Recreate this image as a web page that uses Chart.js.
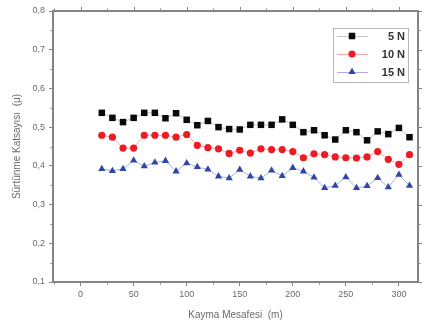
<!DOCTYPE html>
<html lang="tr">
<head>
<meta charset="UTF-8">
<title>Sürtünme Katsayısı</title>
<script src="https://cdn.jsdelivr.net/npm/chart.js@4/dist/chart.umd.min.js"></script>
<style>
    html, body { margin: 0; padding: 0; background: #fff; }
</style>
</head>
<body>
<canvas id="myChart" width="426" height="330"></canvas>

<script>
// data
var distance = [20, 30, 40, 50, 60, 70, 80, 90, 100, 110, 120, 130, 140, 150, 160,
                170, 180, 190, 200, 210, 220, 230, 240, 250, 260, 270, 280, 290, 300, 310];
var load5N  = [0.537, 0.524, 0.513, 0.524, 0.537, 0.537, 0.523, 0.536, 0.519, 0.505, 0.516, 0.500, 0.495, 0.494, 0.506,
               0.506, 0.506, 0.520, 0.506, 0.487, 0.492, 0.479, 0.468, 0.492, 0.487, 0.466, 0.489, 0.482, 0.498, 0.474];
var load10N = [0.479, 0.474, 0.446, 0.446, 0.479, 0.479, 0.479, 0.474, 0.481, 0.453, 0.447, 0.444, 0.432, 0.440, 0.433,
               0.444, 0.442, 0.442, 0.437, 0.421, 0.431, 0.429, 0.423, 0.421, 0.420, 0.423, 0.437, 0.417, 0.404, 0.429];
var load15N = [0.392, 0.387, 0.392, 0.414, 0.399, 0.409, 0.413, 0.386, 0.407, 0.397, 0.391, 0.373, 0.368, 0.390, 0.373,
               0.368, 0.388, 0.374, 0.395, 0.386, 0.370, 0.343, 0.349, 0.371, 0.343, 0.348, 0.369, 0.345, 0.377, 0.349];
var seriesNames = ['5 N', '10 N', '15 N'];
var xTicks = [0, 50, 100, 150, 200, 250, 300];
var xMinorTicks = [-25, 25, 75, 125, 175, 225, 275];
var yTicks = [0.1, 0.2, 0.3, 0.4, 0.5, 0.6, 0.7, 0.8];
var yMinorTicks = [0.15, 0.25, 0.35, 0.45, 0.55, 0.65, 0.75];

(function () {
    var axisColor = '#858585';
    var textColor = '#6a6a6a';

    function points(ys) {
        return distance.map(function (d, i) { return {x: d, y: ys[i]}; });
    }

    var extras = {
        id: 'extras',
        afterDraw: function (chart) {
            var ctx = chart.ctx, a = chart.chartArea;
            var sx = chart.scales.x, sy = chart.scales.y;
            ctx.save();
            // top / right frame
            ctx.strokeStyle = axisColor;
            ctx.lineWidth = 2;
            ctx.beginPath();
            ctx.moveTo(a.left, a.top);
            ctx.lineTo(a.right, a.top);
            ctx.lineTo(a.right, a.bottom);
            ctx.stroke();

            // minor ticks below / left and mirrored ticks top / right
            ctx.lineWidth = 1;
            ctx.beginPath();
            xMinorTicks.forEach(function (v) {
                var px = Math.round(sx.getPixelForValue(v)) + 0.5;
                ctx.moveTo(px, a.bottom); ctx.lineTo(px, a.bottom + 2.5);
                ctx.moveTo(px, a.top); ctx.lineTo(px, a.top - 2.5);
            });
            xTicks.forEach(function (v) {
                var px = Math.round(sx.getPixelForValue(v)) + 0.5;
                ctx.moveTo(px, a.top); ctx.lineTo(px, a.top - 4);
            });
            yMinorTicks.forEach(function (v) {
                var py = Math.round(sy.getPixelForValue(v)) + 0.5;
                ctx.moveTo(a.left, py); ctx.lineTo(a.left - 2.5, py);
                ctx.moveTo(a.right, py); ctx.lineTo(a.right + 2.5, py);
            });
            yTicks.forEach(function (v) {
                var py = Math.round(sy.getPixelForValue(v)) + 0.5;
                ctx.moveTo(a.right, py); ctx.lineTo(a.right + 4, py);
            });
            ctx.stroke();

            // legend box
            var bx = 333, by = 28, bw = 75, bh = 54;
            ctx.fillStyle = '#fff';
            ctx.fillRect(bx, by, bw, bh);
            ctx.strokeStyle = '#b5b5b5';
            ctx.lineWidth = 1;
            ctx.strokeRect(bx + 0.5, by + 0.5, bw, bh);
            ctx.font = 'bold 11px "Liberation Sans", Arial, sans-serif';
            ctx.textAlign = 'right';
            ctx.textBaseline = 'middle';
            chart.data.datasets.forEach(function (ds, i) {
                var ry = by + 8 + i * 18;
                ctx.strokeStyle = ds.borderColor;
                ctx.lineWidth = 1;
                ctx.beginPath();
                ctx.moveTo(bx + 4, ry + 0.5);
                ctx.lineTo(bx + 35, ry + 0.5);
                ctx.stroke();
                ctx.fillStyle = ds.pointBackgroundColor;
                Chart.helpers.drawPoint(ctx, {pointStyle: ds.pointStyle, radius: ds.pointRadius, rotation: 0, borderWidth: 0}, bx + 19, ry);
                ctx.fillStyle = '#333';
                ctx.fillText(ds.label, bx + 72, ry + 1);
            });
            ctx.restore();
        }
    };

    var ctx = document.getElementById('myChart').getContext('2d');
    new Chart(ctx, {
        type: 'scatter',
        data: {
            datasets: [
                {
                    label: seriesNames[0], data: points(load5N), showLine: true,
                    borderColor: '#c4c4c4', borderWidth: 1,
                    pointStyle: 'rect', pointRadius: 4.6,
                    pointBackgroundColor: '#0a0a0a', pointBorderWidth: 0
                },
                {
                    label: seriesNames[1], data: points(load10N), showLine: true,
                    borderColor: '#f5a9a9', borderWidth: 1,
                    pointStyle: 'circle', pointRadius: 3.6,
                    pointBackgroundColor: '#ec1c24', pointBorderWidth: 0
                },
                {
                    label: seriesNames[2], data: points(load15N), showLine: true,
                    borderColor: '#a9b0e0', borderWidth: 1,
                    pointStyle: 'triangle', pointRadius: 4.2,
                    pointBackgroundColor: '#3147a8', pointBorderWidth: 0
                }
            ]
        },
        options: {
            responsive: false,
            animation: false,
            events: [],
            layout: {padding: {top: 11, right: 8, left: 0, bottom: 0}},
            plugins: {legend: {display: false}, tooltip: {enabled: false}},
            scales: {
                x: {
                    type: 'linear', min: -26, max: 318,
                    afterBuildTicks: function (s) { s.ticks = xTicks.map(function (v) { return {value: v}; }); },
                    afterFit: function (s) { s.height = 48; },
                    grid: {drawOnChartArea: false, drawTicks: true, tickLength: 4, color: axisColor, lineWidth: 1},
                    border: {display: true, color: axisColor, width: 2},
                    ticks: {
                        color: textColor, padding: 3, maxRotation: 0,
                        font: {family: '"Liberation Sans", Arial, sans-serif', size: 9}
                    },
                    title: {
                        display: true, text: 'Kayma Mesafesi  (m)', color: textColor,
                        font: {family: '"Liberation Sans", Arial, sans-serif', size: 10},
                        padding: {top: 0, bottom: 9}
                    }
                },
                y: {
                    type: 'linear', min: 0.1, max: 0.8,
                    afterBuildTicks: function (s) { s.ticks = yTicks.map(function (v) { return {value: v}; }); },
                    afterFit: function (s) { s.width = 53; },
                    grid: {drawOnChartArea: false, drawTicks: true, tickLength: 4, color: axisColor, lineWidth: 1},
                    border: {display: true, color: axisColor, width: 2},
                    ticks: {
                        color: textColor, padding: 4,
                        font: {family: '"Liberation Sans", Arial, sans-serif', size: 9},
                        callback: function (v) { return v.toFixed(1).replace('.', ','); }
                    },
                    title: {
                        display: true, text: 'Sürtünme Katsayısı  (µ)', color: textColor,
                        font: {family: '"Liberation Sans", Arial, sans-serif', size: 10},
                        padding: {top: 11, bottom: 0}
                    }
                }
            }
        },
        plugins: [extras]
    });
})();
</script>
</body>
</html>
